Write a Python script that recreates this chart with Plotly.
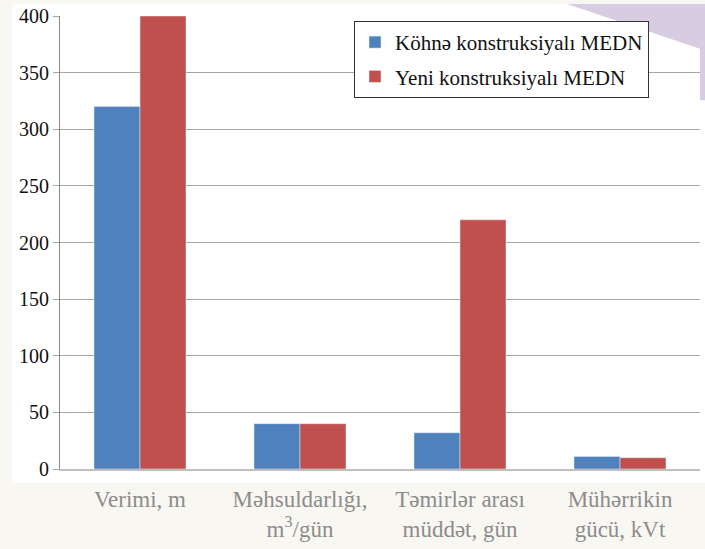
import plotly.graph_objects as go

categories = ["Verimi, m", "Məhsuldarlığı,<br>m<sup>3</sup>/gün", "Təmirlər arası<br>müddət, gün", "Mühərrikin<br>gücü, kVt"]
old_vals = [320, 40, 32, 11]
new_vals = [400, 40, 220, 10]
series_names = ["Köhnə konstruksiyalı MEDN", "Yeni konstruksiyalı MEDN"]
y_ticks = [0, 50, 100, 150, 200, 250, 300, 350, 400]

W, H = 705, 549
L, R, T, B = 60, 5, 12, 80
pw, ph = W - L - R, H - T - B
SERIF = "Liberation Serif"

def px_x(p):
    return (p - L) / pw

def px_y(p):
    return (H - B - p) / ph

fig = go.Figure()
fig.add_trace(go.Bar(x=categories, y=old_vals, name=series_names[0], marker_color="#4F81BD", legendgroup="a"))
fig.add_trace(go.Bar(x=categories, y=new_vals, name=series_names[1], marker_color="#C0504D", legendgroup="b"))

fig.add_shape(type="rect", xref="paper", yref="paper",
              x0=px_x(12), x1=px_x(705), y0=px_y(483), y1=px_y(0),
              fillcolor="white", line_width=0, layer="below")
fig.add_shape(type="path", xref="paper", yref="paper",
              path=f"M {px_x(567)},{px_y(0)} L {px_x(705)},{px_y(0)} L {px_x(705)},{px_y(97)} L {px_x(700)},{px_y(97)} L {px_x(700)},{px_y(45)} Z",
              fillcolor="#d8cce2", line_width=0, layer="below")

fig.update_layout(
    width=W, height=H,
    margin=dict(l=L, r=R, t=T, b=B),
    paper_bgcolor="#f9f7f2",
    plot_bgcolor="white",
    barmode="group",
    bargap=0.425,
    bargroupgap=0,
    showlegend=True,
    legend=dict(
        x=px_x(649), xanchor="right", y=px_y(17), yanchor="top",
        bgcolor="white", bordercolor="#333333", borderwidth=1,
        font=dict(family=SERIF, size=21, color="#111111"),
        itemwidth=30, tracegroupgap=4,
    ),
    font=dict(family=SERIF),
)
fig.update_xaxes(
    showline=True, linecolor="#c0c0c0", linewidth=2,
    tickfont=dict(family=SERIF, size=23, color="#8c8c8c"),
    ticks="", ticklabelstandoff=8,
)
fig.update_yaxes(
    range=[0, 400], tickvals=y_ticks,
    showgrid=True, gridcolor="#a6a6a6", gridwidth=1,
    zeroline=False,
    showline=True, linecolor="#888888", linewidth=1,
    ticks="outside", ticklen=6, tickcolor="#a6a6a6",
    tickfont=dict(family=SERIF, size=20, color="#111111"),
)

fig.write_html("out.html", config={"displayModeBar": False},
               post_script="document.body.style.margin='0';document.body.style.overflow='hidden';")
